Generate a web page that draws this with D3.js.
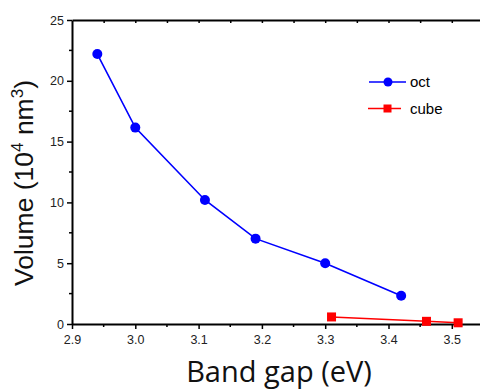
<!DOCTYPE html>
<html>
<head>
<meta charset="utf-8">
<script src="https://cdn.jsdelivr.net/npm/d3@7"></script>
<style>
  body { margin: 0; background: #fff; }
  svg { display: block; }
</style>
</head>
<body>
<div id="chart"></div>
<script>
// data
const octGap = [2.94, 3.00, 3.11, 3.19, 3.30, 3.42];
const octVol = [22.2, 16.15, 10.2, 7.02, 5.0, 2.33];
const cubeGap = [3.31, 3.46, 3.51];
const cubeVol = [0.58, 0.22, 0.1];
const xTicks = [2.9, 3.0, 3.1, 3.2, 3.3, 3.4, 3.5];
const yTicks = [0, 5, 10, 15, 20, 25];

const W = 480, H = 392;
const plotL = 72, plotT = 20, plotR = 480, plotB = 324;

const svg = d3.select("#chart").append("svg")
  .attr("width", W).attr("height", H);

const x = d3.scaleLinear().domain([2.9, 2.9 + (plotR - plotL) / 633]).range([plotL, plotR]);
const y = d3.scaleLinear().domain([0, 25]).range([plotB, plotT]);

const tickFont = "Liberation Sans, Arial, sans-serif";

// bottom axis
const xAxis = svg.append("g")
  .attr("transform", "translate(0," + plotB + ")")
  .call(d3.axisBottom(x).tickValues(xTicks).tickFormat(d3.format(".1f")).tickSize(5).tickSizeOuter(0));
xAxis.selectAll("text").attr("font-size", 12.5).attr("font-family", tickFont).attr("fill", "#222").attr("dy", "0.95em");
xAxis.selectAll("line").attr("stroke-width", 1.5);
xAxis.select(".domain").attr("stroke-width", 2);

// minor bottom ticks
svg.append("g").selectAll("line")
  .data(d3.range(2.95, 3.55, 0.1))
  .join("line")
  .attr("x1", d => x(d)).attr("x2", d => x(d))
  .attr("y1", plotB).attr("y2", plotB + 3)
  .attr("stroke", "#000").attr("stroke-width", 1.5);

// left axis
const yAxis = svg.append("g")
  .attr("transform", "translate(" + plotL + ",0)")
  .call(d3.axisLeft(y).tickValues(yTicks).tickSize(5).tickSizeOuter(0));
yAxis.selectAll("text").attr("font-size", 12.5).attr("font-family", tickFont).attr("fill", "#222");
yAxis.selectAll("line").attr("stroke-width", 1.5);
yAxis.select(".domain").attr("stroke-width", 2);

svg.append("g").selectAll("line")
  .data([2.5, 7.5, 12.5, 17.5, 22.5])
  .join("line")
  .attr("x1", plotL - 3).attr("x2", plotL)
  .attr("y1", d => y(d)).attr("y2", d => y(d))
  .attr("stroke", "#000").attr("stroke-width", 1.5);

// top frame line with inward ticks
const topAxis = svg.append("g")
  .attr("transform", "translate(0," + plotT + ")")
  .call(d3.axisTop(x).tickValues(d3.range(2.95, 3.55, 0.05)).tickFormat("").tickSize(-3).tickSizeOuter(0));
topAxis.selectAll("line").attr("stroke-width", 1.5);
topAxis.select(".domain").attr("stroke-width", 2);

// series
const octData = octGap.map((g, i) => [g, octVol[i]]);
const cubeData = cubeGap.map((g, i) => [g, cubeVol[i]]);
const line = d3.line().x(d => x(d[0])).y(d => y(d[1]));

svg.append("path").datum(octData).attr("d", line)
  .attr("fill", "none").attr("stroke", "#0000ff").attr("stroke-width", 1.6);
svg.append("g").selectAll("circle").data(octData).join("circle")
  .attr("cx", d => x(d[0])).attr("cy", d => y(d[1])).attr("r", 5)
  .attr("fill", "#0000ff");

svg.append("path").datum(cubeData).attr("d", line)
  .attr("fill", "none").attr("stroke", "#ff0000").attr("stroke-width", 1.6);
svg.append("g").selectAll("rect").data(cubeData).join("rect")
  .attr("x", d => x(d[0]) - 4.5).attr("y", d => y(d[1]) - 4.5)
  .attr("width", 9).attr("height", 9)
  .attr("fill", "#ff0000");

// legend
const legend = svg.append("g").attr("font-family", tickFont).attr("font-size", 15);
legend.append("line").attr("x1", 369).attr("x2", 406).attr("y1", 82).attr("y2", 82)
  .attr("stroke", "#0000ff").attr("stroke-width", 1.6);
legend.append("circle").attr("cx", 388).attr("cy", 82).attr("r", 4.5).attr("fill", "#0000ff");
legend.append("text").attr("x", 410).attr("y", 82).attr("dy", "0.35em").text("oct");
legend.append("line").attr("x1", 368).attr("x2", 401).attr("y1", 108.5).attr("y2", 108.5)
  .attr("stroke", "#ff0000").attr("stroke-width", 1.6);
legend.append("rect").attr("x", 383.5).attr("y", 104.5).attr("width", 8).attr("height", 8).attr("fill", "#ff0000");
legend.append("text").attr("x", 410).attr("y", 108.5).attr("dy", "0.35em").text("cube");

// axis titles
svg.append("text")
  .attr("x", 279).attr("y", 382)
  .attr("text-anchor", "middle")
  .attr("font-family", "Open Sans, sans-serif")
  .attr("font-size", 29)
  .attr("fill", "#111")
  .text("Band gap (eV)");

const yl = svg.append("text")
  .attr("transform", "translate(33,183) rotate(-90)")
  .attr("text-anchor", "middle")
  .attr("font-family", tickFont)
  .attr("font-size", 26.5)
  .attr("fill", "#111");
yl.append("tspan").text("Volume (10");
yl.append("tspan").attr("dy", -10).attr("font-size", 17).text("4");
yl.append("tspan").attr("dy", 10).text(" nm");
yl.append("tspan").attr("dy", -10).attr("font-size", 17).text("3");
yl.append("tspan").attr("dy", 10).text(")");
</script>
</body>
</html>
